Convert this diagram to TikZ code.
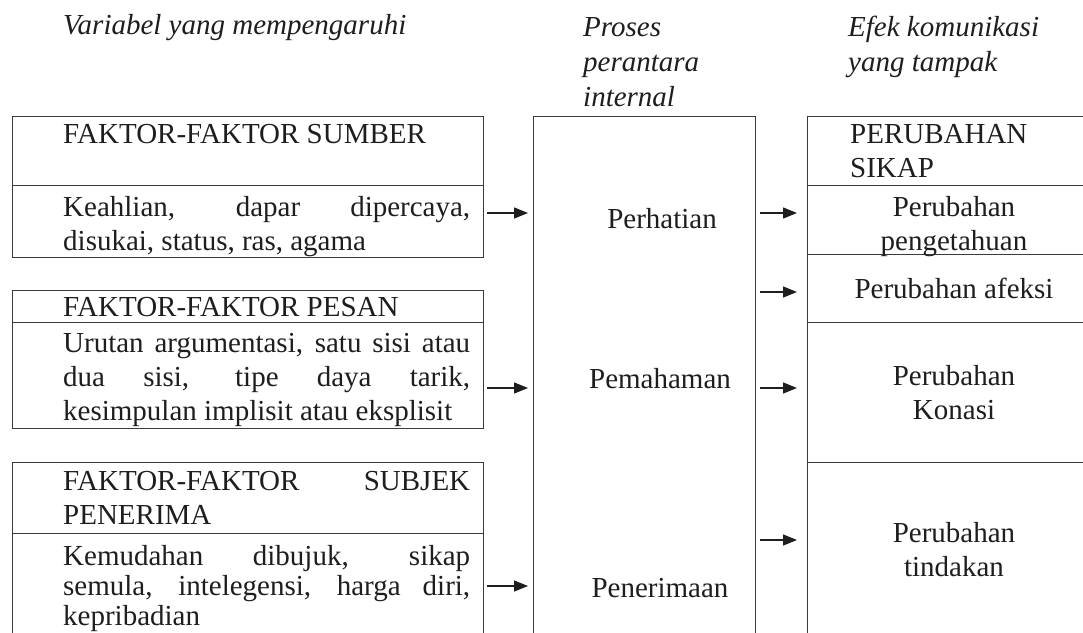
\documentclass[tikz,border=0pt]{standalone}
\usepackage{fontspec}
\setmainfont{Liberation Serif}
\usetikzlibrary{arrows.meta}
\definecolor{ink}{HTML}{1E1E1E}
\definecolor{linec}{HTML}{3A3A3A}
\newcommand\fullline[1]{\makebox[407pt][s]{#1}}
\begin{document}
\begin{tikzpicture}[x=1pt,y=-1pt,
  txt/.style={inner sep=0pt, text=ink, font=\fontsize{29}{34}\selectfont},
  cell/.style={draw=linec, line width=0.9pt, inner sep=0pt, outer sep=0pt, anchor=north west},
  arr/.style={draw=ink, line width=1.3pt, -{Triangle[length=14pt,width=11pt]}},
  arrL/.style={arr, shorten <=4pt, shorten >=5pt},
  arrR/.style={arr, shorten <=5pt, shorten >=10pt}]
\useasboundingbox (0,0) rectangle (1083,632);
\clip (0,0) rectangle (1083,632);
\fill[white] (0,0) rectangle (1083,632);

% boxes
\node[cell, minimum width=471pt, minimum height=69pt] (srcH) at (12,116) {};
\node[cell, minimum width=471pt, minimum height=72pt] (srcB) at (12,185) {};
\node[cell, minimum width=471pt, minimum height=32pt] (pesH) at (12,290) {};
\node[cell, minimum width=471pt, minimum height=106pt] (pesB) at (12,322) {};
\node[cell, minimum width=471pt, minimum height=71pt] (subH) at (12,462) {};
\node[cell, minimum width=471pt, minimum height=157pt] (subB) at (12,533) {};
\node[cell, minimum width=222pt, minimum height=574pt] (mid) at (533,116) {};
\node[cell, minimum width=303pt, minimum height=69pt] (r1) at (807,116) {};
\node[cell, minimum width=303pt, minimum height=69pt] (r2) at (807,185) {};
\node[cell, minimum width=303pt, minimum height=68pt] (r3) at (807,254) {};
\node[cell, minimum width=303pt, minimum height=140pt] (r4) at (807,322) {};
\node[cell, minimum width=303pt, minimum height=228pt] (r5) at (807,462) {};

% column titles
\node[txt, anchor=base west] (tVar) at (63,34) {\itshape Variabel yang mempengaruhi};
\node[txt, anchor=base west] (tPro) at (583,36) {\parbox[t]{200pt}{\fontsize{29}{35}\selectfont\itshape Proses\\perantara\\internal}};
\node[txt, anchor=base west] (tEfek) at (848,36) {\parbox[t]{230pt}{\fontsize{29}{35}\selectfont\itshape Efek komunikasi\\yang tampak}};

% left texts
\node[txt, anchor=base west] (srcHt) at (63,143) {FAKTOR-FAKTOR SUMBER};
\node[txt, anchor=base west] (srcBt) at (63,216) {\parbox[t]{407pt}{\fullline{Keahlian, dapar dipercaya,}\\disukai, status, ras, agama}};
\node[txt, anchor=base west] (pesHt) at (63,316) {FAKTOR-FAKTOR PESAN};
\node[txt, anchor=base west] (pesBt) at (63,352) {\parbox[t]{407pt}{\fullline{Urutan argumentasi, satu sisi atau}\\\fullline{dua sisi, tipe daya tarik,}\\kesimpulan implisit atau eksplisit}};
\node[txt, anchor=base west] (subHt) at (63,490) {\parbox[t]{407pt}{\fullline{FAKTOR-FAKTOR SUBJEK}\\PENERIMA}};
\node[txt, anchor=base west] (subBt) at (63,565) {\parbox[t]{407pt}{\fontsize{29}{30}\selectfont\fullline{Kemudahan dibujuk, sikap}\\\fullline{semula, intelegensi, harga diri,}\\kepribadian}};

% middle texts
\node[txt, anchor=base] (mPer) at (662,228) {Perhatian};
\node[txt, anchor=base] (mPem) at (660,388) {Pemahaman};
\node[txt, anchor=base] (mPen) at (660,597) {Penerimaan};

% right texts
\node[txt, anchor=base west] (r1t) at (850,143) {\parbox[t]{230pt}{PERUBAHAN\\SIKAP}};
\node[txt, anchor=base] (r2t) at (954,216) {\parbox[t]{250pt}{\centering Perubahan\\pengetahuan}};
\node[txt, anchor=base] (r3t) at (954,298) {Perubahan afeksi};
\node[txt, anchor=base] (r4t) at (954,385) {\parbox[t]{250pt}{\centering Perubahan\\Konasi}};
\node[txt, anchor=base] (r5t) at (954,542) {\parbox[t]{250pt}{\centering Perubahan\\tindakan}};

% arrow levels
\coordinate (yA) at (0,213);
\coordinate (yB) at (0,292);
\coordinate (yC) at (0,388);
\coordinate (yD) at (0,540);
\coordinate (yE) at (0,586);

\draw[arrL] (srcB.east |- yA) -- (mid.west |- yA);
\draw[arrL] (pesB.east |- yC) -- (mid.west |- yC);
\draw[arrL] (subB.east |- yE) -- (mid.west |- yE);

\draw[arrR] (mid.east |- yA) -- (r2.west |- yA);
\draw[arrR] (mid.east |- yB) -- (r3.west |- yB);
\draw[arrR] (mid.east |- yC) -- (r4.west |- yC);
\draw[arrR] (mid.east |- yD) -- (r5.west |- yD);
\end{tikzpicture}
\end{document}
